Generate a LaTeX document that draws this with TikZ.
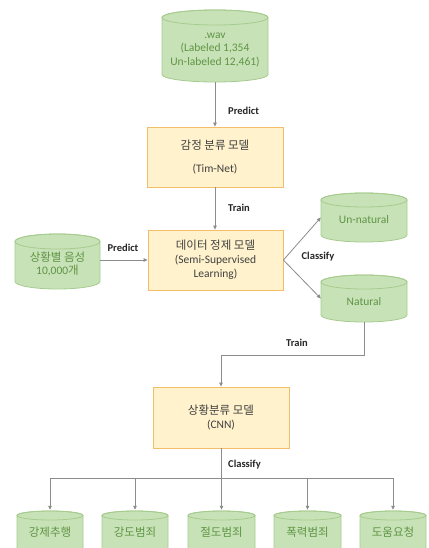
\documentclass[tikz,border=0pt]{standalone}
\usepackage{fontspec}
\setmainfont{Carlito}
\newfontfamily\kr{Noto Sans CJK KR}
\usetikzlibrary{arrows.meta,calc}
\definecolor{cylfillc}{HTML}{C8E2B7}
\definecolor{cyllinec}{HTML}{A6CB8E}
\definecolor{cyltext}{HTML}{5F9445}
\definecolor{boxfillc}{HTML}{FFF2CC}
\definecolor{boxlinec}{HTML}{F2BE6A}
\definecolor{boxtext}{HTML}{404040}
\definecolor{arrc}{HTML}{8C8C8C}
\tikzset{
  cylfill/.style={fill=cylfillc,draw=cyllinec,line width=0.8pt},
  cylline/.style={draw=cyllinec,line width=0.8pt},
  cyltxt/.style={text=cyltext,align=center,font=\fontsize{11.5}{13.8}\selectfont,inner sep=0pt},
  model/.style={draw=boxlinec,fill=boxfillc,line width=0.8pt,text=boxtext,align=center,
    font=\fontsize{11.5}{13.8}\selectfont,inner sep=0pt},
  arr/.style={draw=arrc,line width=0.8pt,-{Triangle[length=4pt,width=3.5pt]}},
  conn/.style={draw=arrc,line width=0.8pt},
  lbl/.style={font=\bfseries\fontsize{10.5}{12}\selectfont,text=black!85,inner sep=0pt}
}
% name, cx, ytop, ybot, halfwidth, ry
\newcommand\mycyl[6]{%
  \path[cylfill] (#2-#5,-#3-#6) -- (#2-#5,-#4+#6)
     arc[start angle=180,end angle=360,x radius=#5pt,y radius=#6pt]
     -- (#2+#5,-#3-#6)
     arc[start angle=0,end angle=180,x radius=#5pt,y radius=#6pt] -- cycle;
  \draw[cylline] (#2,-#3-#6) ellipse[x radius=#5pt,y radius=#6pt];
  \node[inner sep=0pt,minimum width={2*#5*1pt},minimum height={(#4-#3)*1pt}] (#1) at (#2,-#3/2-#4/2) {};
}
\begin{document}
\begin{tikzpicture}[x=1pt,y=1pt]
\useasboundingbox (0,0) rectangle (428,-548);
\clip (0,0) rectangle (428,-548);
\fill[white] (0,0) rectangle (428,-548);

% cylinders
\mycyl{wav}{215}{10}{82}{53}{7.5}
\node[cyltxt] (wavt) at (215,-50) {.wav\\(Labeled 1,354\\Un-labeled 12,461)};
\mycyl{sit}{57.5}{234}{289}{42.5}{7.5}
\node[cyltxt] (sitt) at (57.5,-264) {{\kr 상황별 음성}\\10,000{\kr 개}};
\mycyl{unnat}{364}{193}{242}{43}{7}
\node[cyltxt] (unnatt) at (364,-220) {Un-natural};
\mycyl{nat}{364}{275}{322}{43}{7}
\node[cyltxt] (natt) at (364,-302) {Natural};

% models
\node[model,minimum width=136pt,minimum height=60pt] (m1) at (215,-157)
  {{\kr 감정 분류 모델}\\[9pt](Tim-Net)};
\node[model,minimum width=135pt,minimum height=60pt] (m2) at (215.5,-260)
  {{\kr 데이터 정제 모델}\\(Semi-Supervised\\Learning)};
\node[model,minimum width=136pt,minimum height=61pt] (m3) at (221,-417.5)
  {{\kr 상황분류 모델}\\(CNN)};

% bottom cylinders
\mycyl{c1}{50}{511}{562}{33}{4.5}
\mycyl{c2}{135}{511}{562}{33}{4.5}
\mycyl{c3}{221.5}{511}{562}{33.5}{4.5}
\mycyl{c4}{307.5}{511}{562}{33.5}{4.5}
\mycyl{c5}{393}{511}{562}{33}{4.5}
\node[cyltxt,font=\kr\fontsize{11.5}{13.8}\selectfont] (t1) at (50,-532) {강제추행};
\node[cyltxt,font=\kr\fontsize{11.5}{13.8}\selectfont] (t2) at (135,-532) {강도범죄};
\node[cyltxt,font=\kr\fontsize{11.5}{13.8}\selectfont] (t3) at (221.5,-532) {절도범죄};
\node[cyltxt,font=\kr\fontsize{11.5}{13.8}\selectfont] (t4) at (307.5,-532) {폭력범죄};
\node[cyltxt,font=\kr\fontsize{11.5}{13.8}\selectfont] (t5) at (393,-532) {도움요청};

% connectors
\draw[arr] (wav.south) -- (m1.north);
\node[lbl,anchor=west] (lp1) at (228,-111) {Predict};
\draw[arr] (m1.south) -- (m2.north -| m1.south);
\node[lbl,anchor=west] (lt1) at (228,-208) {Train};
\draw[arr] (sit.east |- m2.west) -- (m2.west);
\node[lbl] (lp2) at (123,-248) {Predict};
\draw[arr] (m2.east) -- (unnat.west);
\draw[arr] (m2.east) -- (nat.west);
\node[lbl] (lc1) at (318,-257) {Classify};
\coordinate (tj) at (221,-355);
\draw[arr] (nat.south) |- (tj) -- (m3.north);
\node[lbl] (lt2) at (297,-343) {Train};
\coordinate (cj) at (221,-478);
\draw[conn] (m3.south) -- (cj);
\node[lbl,anchor=west] (lc2) at (228,-465) {Classify};
\draw[conn] (c1.north |- cj) -- (c5.north |- cj);
\foreach \c in {c1,c2,c3,c4,c5}{
  \draw[arr] (\c.north |- cj) -- ([yshift=1pt]\c.north);
}
\end{tikzpicture}
\end{document}
